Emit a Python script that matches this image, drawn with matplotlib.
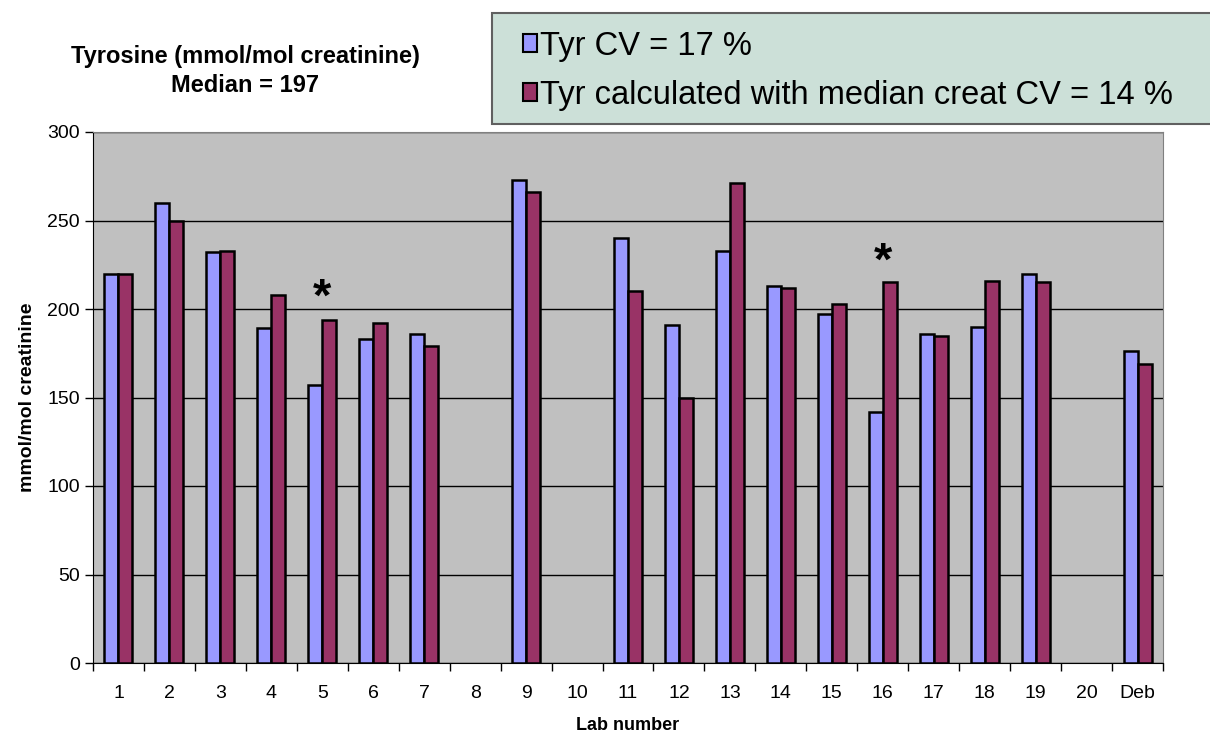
import numpy as np
import matplotlib.pyplot as plt
from matplotlib.patches import Rectangle

labs = ['1', '2', '3', '4', '5', '6', '7', '8', '9', '10', '11', '12', '13', '14',
        '15', '16', '17', '18', '19', '20', 'Deb']
tyr_cv = [220, 260, 232, 189, 157, 183, 186, np.nan, 273, np.nan, 240, 191, 233, 213,
          197, 142, 186, 190, 220, np.nan, 176]
tyr_median_creat = [220, 250, 233, 208, 194, 192, 179, np.nan, 266, np.nan, 210, 150, 271, 212,
                    203, 215, 185, 216, 215, np.nan, 169]
series_names = ['Tyr CV = 17 %', 'Tyr calculated with median creat CV = 14 %']
series_colors = ['#9999FF', '#993366']
star_labs = ['5', '16']
star_heights = [206, 226]

plt.rcParams['font.family'] = ['Liberation Sans', 'DejaVu Sans']

W, H = 1210, 740
fig = plt.figure(figsize=(W / 100, H / 100), dpi=100)
ax = fig.add_axes([93 / W, 1 - 663 / H, 1070 / W, 531 / H])

x = np.arange(len(labs))
w = 0.275
ax.set_facecolor('#C0C0C0')
ax.grid(axis='y', color='black', linewidth=1, zorder=1)
ax.bar(x - w / 2, tyr_cv, w, color=series_colors[0], edgecolor='black', linewidth=1.8, zorder=3)
ax.bar(x + w / 2, tyr_median_creat, w, color=series_colors[1], edgecolor='black', linewidth=1.8, zorder=3)

for lab, h in zip(star_labs, star_heights):
    ax.text(labs.index(lab), h, '*', ha='center', va='center', fontsize=34,
            fontweight='bold', zorder=4)

ax.set_xlim(-0.5, len(labs) - 0.5)
ax.set_ylim(0, 300)
ax.set_yticks(np.arange(0, 301, 50))
ax.set_xticks(x)
ax.set_xticklabels(labs)
ax.set_xticks(np.arange(-0.5, len(labs)), minor=True)
ax.tick_params(axis='x', which='major', length=0, labelsize=14, pad=16)
ax.tick_params(axis='x', which='minor', length=6, width=1, direction='out')
ax.tick_params(axis='y', length=6, width=1, labelsize=14, direction='out')

for side in ['top', 'right']:
    ax.spines[side].set_color('#808080')
for side in ['left', 'bottom']:
    ax.spines[side].set_color('black')

ax.set_xlabel('Lab number', fontsize=13, fontweight='bold', labelpad=11)
ax.set_ylabel('mmol/mol creatinine', fontsize=14, fontweight='bold', labelpad=8)

fig.text(245 / W, 1 - 71 / H, 'Tyrosine (mmol/mol creatinine)\nMedian = 197',
         ha='center', va='center', fontsize=17, fontweight='bold', linespacing=1.35)

# legend box drawn by hand so it runs off the right edge like the original
fig.patches.append(Rectangle((492 / W, 1 - 124 / H), 730 / W, 111 / H,
                             transform=fig.transFigure, facecolor='#CCE0D8',
                             edgecolor='#606060', linewidth=1.5))
for i, (name, col) in enumerate(zip(series_names, series_colors)):
    yc = 43 + i * 49
    fig.patches.append(Rectangle((523 / W, 1 - (yc + 9) / H), 14 / W, 18 / H,
                                 transform=fig.transFigure, facecolor=col,
                                 edgecolor='black', linewidth=1.5))
    fig.text(540 / W, 1 - yc / H, name, ha='left', va='center_baseline', fontsize=23.5)

fig.savefig('out.png', dpi=100)
